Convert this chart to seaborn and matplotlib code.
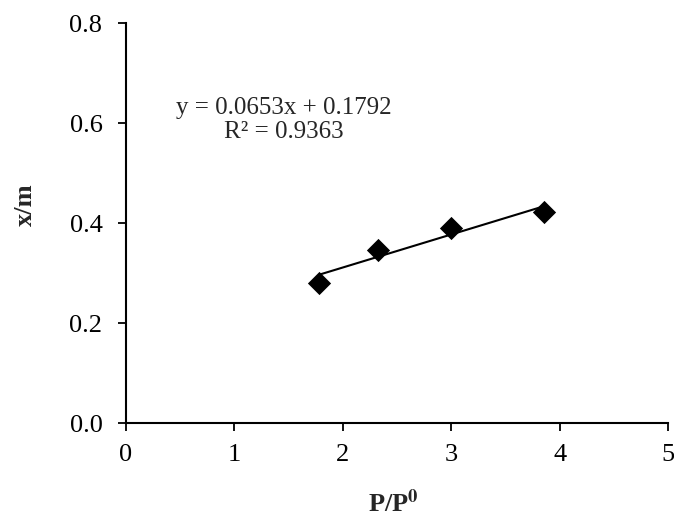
import matplotlib
matplotlib.use("Agg")
import matplotlib.pyplot as plt
import seaborn as sns
import pandas as pd

# Data
p_ratio = [1.78, 2.325, 2.995, 3.853]
x_over_m = [0.281, 0.346, 0.390, 0.422]
x_ticks = [0, 1, 2, 3, 4, 5]
y_ticks = [0.0, 0.2, 0.4, 0.6, 0.8]
equation_text = "y = 0.0653x + 0.1792\nR² = 0.9363"

df = pd.DataFrame({"P/P0": p_ratio, "x/m": x_over_m})

sns.set_style("white")
plt.rcParams["font.family"] = ["Liberation Serif", "DejaVu Serif"]
plt.rcParams["mathtext.fontset"] = "stix"

fig = plt.figure(figsize=(6.74, 5.18), dpi=100)
ax = fig.add_axes([126 / 674, 1 - 423 / 518, (668 - 126) / 674, (423 - 23) / 518])

sns.regplot(data=df, x="P/P0", y="x/m", ax=ax, ci=None, truncate=True,
            scatter=False, line_kws={"color": "black", "linewidth": 1.5})
sns.scatterplot(data=df, x="P/P0", y="x/m", ax=ax, marker="D", s=140,
                color="black", edgecolor="black", linewidth=0, zorder=3)

ax.set_xlim(0, 5)
ax.set_ylim(0, 0.8)
ax.set_xticks(x_ticks)
ax.set_xticklabels([str(t) for t in x_ticks])
ax.set_yticks(y_ticks)
ax.set_yticklabels([f"{t:.1f}" for t in y_ticks])

for side in ["top", "right"]:
    ax.spines[side].set_visible(False)
for side in ["left", "bottom"]:
    ax.spines[side].set_color("black")
    ax.spines[side].set_linewidth(1.5)

ax.tick_params(axis="both", which="major", direction="out", length=6, width=1.3,
               color="black", labelsize=19, labelcolor="black", bottom=True, left=True)
ax.tick_params(axis="y", pad=11)
ax.tick_params(axis="x", pad=9)

ax.set_xlabel("P/P$^{\\mathbf{0}}$", fontsize=19, fontweight="bold")
ax.set_ylabel("x/m", fontsize=19, fontweight="bold")
ax.xaxis.set_label_coords((393 - 126) / 542, (423 - 503) / 400)
ax.xaxis.label.set_va("center")
ax.yaxis.set_label_coords((25 - 126) / 542, (423 - 205) / 400)
ax.yaxis.label.set_va("center")
ax.yaxis.label.set_ha("center")

ax.text(1.46, 0.606, equation_text, fontsize=18, ha="center", va="center",
        multialignment="center", linespacing=1.1)

ax.set_facecolor("none")
fig.savefig("out.png", dpi=100, facecolor="white")
